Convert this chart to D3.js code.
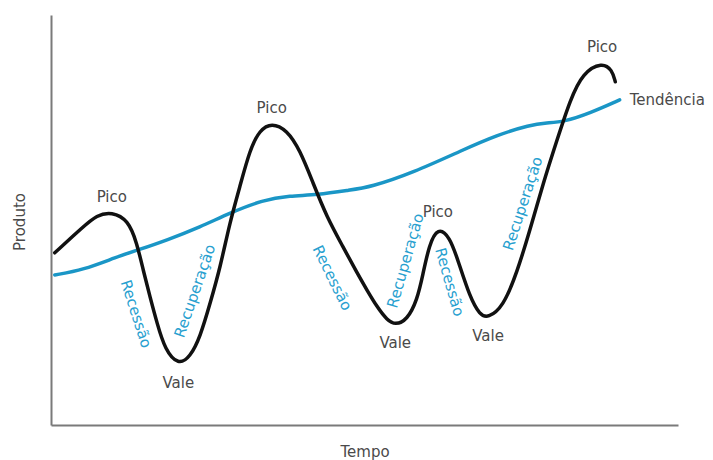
<!DOCTYPE html>
<html>
<head>
<meta charset="utf-8">
<script src="https://cdn.jsdelivr.net/npm/d3@7"></script>
<style>
  html, body { margin: 0; padding: 0; background: #fff; }
  svg { display: block; }
  text { font-family: "DejaVu Sans", sans-serif; font-size: 15px; }
</style>
</head>
<body>
<svg id="chart" width="713" height="460"></svg>
<script>
// Business cycle: output over time, with its long-run trend.
const cycleTime   = [0.6, 5.1, 7.3, 9.7, 12.3, 13.7, 14.7, 15.8, 16.9, 18.2, 20.3, 22.2, 23.8, 25.4, 27.0, 28.5, 30.1, 31.7, 33.3, 35.2, 37.6, 39.7, 41.8, 44.0, 46.6, 48.8, 50.4, 52.0, 53.6, 54.9, 56.8, 58.4, 59.3, 60.3, 61.7, 63.6, 64.9, 66.8, 68.4, 69.7, 72.1, 74.3, 76.4, 78.5, 80.7, 82.8, 84.8, 87.9, 89.5, 90.0];
const cycleOutput = [42.0, 48.3, 51.2, 52.0, 50.0, 44.4, 37.8, 31.2, 24.9, 18.3, 14.6, 16.6, 21.5, 29.8, 38.5, 49.3, 58.0, 67.1, 72.0, 73.7, 72.0, 67.1, 59.0, 50.7, 43.4, 37.1, 32.9, 28.8, 25.6, 24.4, 25.6, 30.5, 36.6, 43.9, 48.3, 45.9, 40.2, 31.2, 26.8, 26.1, 28.8, 37.1, 47.6, 59.0, 69.5, 79.3, 85.9, 88.5, 86.6, 83.7];

const trendTime   = [0.6, 5.1, 10.5, 13.9, 18.5, 23.8, 28.5, 33.8, 38.1, 42.4, 47.7, 50.9, 57.7, 65.7, 71.1, 76.4, 79.1, 81.7, 86.0, 90.7];
const trendOutput = [36.6, 37.8, 41.0, 42.7, 45.1, 48.3, 51.7, 54.9, 55.9, 56.1, 57.3, 58.0, 61.5, 67.1, 70.7, 73.2, 73.7, 73.9, 76.1, 79.3];

// Turning points (indices into the cycle arrays)
const peakIndex   = [3, 19, 34, 47];
const valleyIndex = [10, 29, 39];

// Phase labels along the slopes
const phaseText  = ["Recessão", "Recuperação", "Recessão", "Recuperação", "Recessão", "Recuperação"];
const phaseTime  = [13.6, 22.9, 44.9, 56.5, 63.6, 75.2];
const phaseLevel = [27.1, 32.7, 35.9, 40.1, 34.9, 54.0];
const phaseAngle = [72, -71, 64, -74, 74, -72];

const svg = d3.select("#chart");
const x = d3.scaleLinear().domain([0, 100]).range([51, 678]);
const y = d3.scaleLinear().domain([0, 100]).range([425, 15]);

// Axes: bare lines, no ticks
const axisColor = "#7a7a7a";
svg.append("g").attr("transform", `translate(${x(0)},0)`)
  .call(d3.axisLeft(y).ticks(0).tickSizeOuter(0))
  .call(g => g.select(".domain").attr("stroke", axisColor).attr("stroke-width", 2));
svg.append("g").attr("transform", `translate(0,${y(0)})`)
  .call(d3.axisBottom(x).ticks(0).tickSizeOuter(0))
  .call(g => g.select(".domain").attr("stroke", axisColor).attr("stroke-width", 2));

const blue = "#1a96c6";
const labelBlue = "#27a0cf";
const grey = "#4a4a4a";

// B-spline smoothing through the sampled readings
const smooth = d3.line()
  .x(d => x(d[0]))
  .y(d => y(d[1]))
  .curve(d3.curveBasis);

// Trend line
const trend = d3.zip(trendTime, trendOutput);
svg.append("path")
  .datum(trend)
  .attr("fill", "none")
  .attr("stroke", blue)
  .attr("stroke-width", 3.5)
  .attr("stroke-linecap", "round")
  .attr("d", smooth);

// Cycle line
const cycle = d3.zip(cycleTime, cycleOutput);
svg.append("path")
  .datum(cycle)
  .attr("fill", "none")
  .attr("stroke", "#111")
  .attr("stroke-width", 3.5)
  .attr("stroke-linecap", "round")
  .attr("stroke-linejoin", "round")
  .attr("d", smooth);

// Peak and valley labels
svg.selectAll("text.peak").data(peakIndex).join("text")
  .attr("class", "peak")
  .attr("x", i => x(cycleTime[i]))
  .attr("y", i => y(cycleOutput[i]) - 10)
  .attr("text-anchor", "middle")
  .attr("fill", grey)
  .text("Pico");

svg.selectAll("text.valley").data(valleyIndex).join("text")
  .attr("class", "valley")
  .attr("x", i => x(cycleTime[i]))
  .attr("y", i => y(cycleOutput[i]) + 23)
  .attr("text-anchor", "middle")
  .attr("fill", grey)
  .text("Vale");

// Trend label at the end of the trend line
const last = trend[trend.length - 1];
svg.append("text")
  .attr("x", x(last[0]) + 10)
  .attr("y", y(last[1]))
  .attr("dy", "0.35em")
  .attr("fill", grey)
  .text("Tendência");

// Phase labels
svg.selectAll("text.phase").data(phaseText).join("text")
  .attr("class", "phase")
  .attr("transform", (t, i) => `translate(${x(phaseTime[i])},${y(phaseLevel[i])}) rotate(${phaseAngle[i]})`)
  .attr("text-anchor", "middle")
  .attr("dy", "0.35em")
  .attr("fill", labelBlue)
  .text(t => t);

// Axis titles
svg.append("text")
  .attr("transform", `translate(20,222) rotate(-90)`)
  .attr("text-anchor", "middle")
  .attr("dy", "0.35em")
  .attr("fill", grey)
  .text("Produto");

svg.append("text")
  .attr("x", 365)
  .attr("y", 452)
  .attr("text-anchor", "middle")
  .attr("dy", "0.35em")
  .attr("fill", grey)
  .text("Tempo");
</script>
</body>
</html>
